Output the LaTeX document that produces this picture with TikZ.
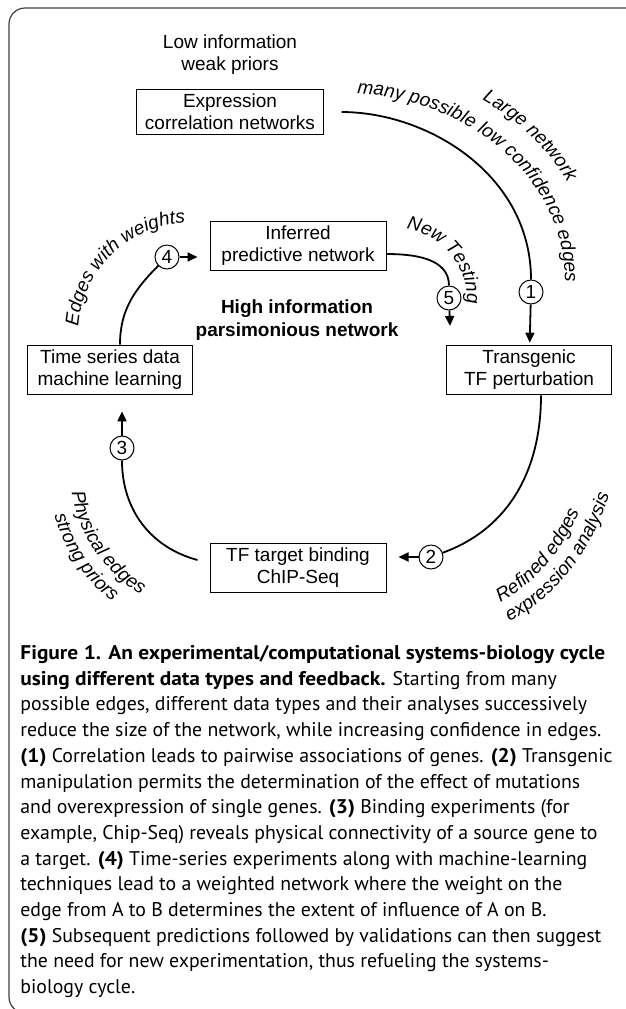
\documentclass[tikz,border=0pt]{standalone}
\usepackage{fontspec}
\setmainfont{Liberation Sans}
\newfontfamily\capfont{PT Sans}[BoldFeatures={FakeStretch=1.08}]
\usetikzlibrary{arrows.meta,decorations.text}

\newcommand\arcfont{\fontsize{9.5}{11}\selectfont\itshape}

\tikzset{
  box/.style={draw,line width=0.5pt,align=center,inner xsep=4pt,inner ysep=2.5pt,minimum width=88pt},
  num/.style={circle,draw,line width=0.5pt,inner sep=0pt,minimum size=12pt},
  link/.style={line width=0.9pt},
  arr/.style={line width=0.9pt,-{Triangle[length=5pt,width=4.5pt]}},
  arclabel/.style={decorate,decoration={text along path,text align=center,text={|\arcfont|#1}}}
}

\begin{document}
\begin{tikzpicture}[x=0.5pt,y=0.5pt,font=\fontsize{9.5}{11}\selectfont]

        \useasboundingbox (0,0) rectangle (626,-1009);
        \clip (0,0) rectangle (626,-1009);

        % frame
        \draw[black!75,line width=0.6pt,rounded corners=8pt] (9,-1013) rectangle (700,-8);

        \node[align=center] (lowinfo) at (230,-55) {Low information\\weak priors};
        \node[align=center,font=\fontsize{9.5}{11.5}\selectfont\bfseries] (highinfo) at (297,-320) {High information\\parsimonious network};

        \begin{scope}[every node/.style={box}]
          \node (expr)   at (230,-112) {Expression\\correlation networks};
          \node (infer)  at (298,-246) {Inferred\\predictive network};
          \node[minimum width=82.5pt] (series) at (110,-370) {Time series data\\machine learning};
          \node[minimum width=82.5pt] (transg) at (529,-370) {Transgenic\\TF perturbation};
          \node (chip)   at (298,-568) {TF target binding\\ChIP-Seq};
        \end{scope}

        \begin{scope}[every node/.style={num}]
          \node (n1) at (531,-292) {1};
          \node (n2) at (431,-557) {2};
          \node (n3) at (122,-448) {3};
          \node (n4) at (167,-257) {4};
          \node (n5) at (449,-298) {5};
        \end{scope}

        \coordinate (n5end) at (450,-326);

        % the cycle
        \path (expr) edge[link,out=0,in=90,shorten <=9pt] (n1);
        \path (n1) edge[arr,shorten >=1pt] (transg);
        \path ([xshift=6pt]transg.south) edge[link,out=-90,in=20] (n2);
        \path (n2) edge[arr,shorten >=6pt] (n2 -| chip.east);
        \path ([shift={(-6pt,4pt)}]chip.west) edge[link,out=165,in=-90] (n3);
        \path (n3) edge[arr,shorten >=8pt] (n3 |- series.south);
        \path ([xshift=5pt]series.north) edge[link,out=90,in=-135] (n4);
        \path (n4) edge[arr,shorten >=6pt] (n4 -| infer.west);
        \path ([yshift=-4pt]infer.east) edge[link,out=0,in=90] (n5);
        \path (n5) edge[arr] (n5end);

        % labels along the arcs
        \path[arclabel={many possible low confidence edges}] (341,-281) ++(88:224 and 188) arc[start angle=88,end angle=-3,x radius=224,y radius=188];
        \path[arclabel={Large network}] (341,-281) ++(58:254 and 218) arc[start angle=58,end angle=25,x radius=254,y radius=218];
        \path[arclabel={Edges with weights}] (190,-335) ++(178:112) arc[start angle=178,end angle=90,radius=112];
        \path[arclabel={New Testing}] (395,-300) ++(84:72) arc[start angle=84,end angle=-6,radius=72];
        \path[arclabel={Physical edges}] (215,-470) ++(184:145) arc[start angle=184,end angle=244,radius=145];
        \path[arclabel={strong priors}] (215,-470) ++(194:167) arc[start angle=194,end angle=234,radius=167];
        \path[arclabel={Refined edges}] (440,-420) ++(-74:157 and 197) arc[start angle=-74,end angle=-22,x radius=157,y radius=197];
        \path[arclabel={expression analysis}] (440,-420) ++(-72:180 and 218) arc[start angle=-72,end angle=-16,x radius=180,y radius=218];

        % caption
        \node[anchor=north west,align=left,inner sep=0pt,font=\capfont\fontsize{9.9}{12.85}\selectfont] (caption) at (20,-645) {%
          \textbf{Figure 1. An experimental/computational systems-biology cycle}\\
          \textbf{using different data types and feedback.} Starting from many\\
          possible edges, different data types and their analyses successively\\
          reduce the size of the network, while increasing confidence in edges.\\
          \textbf{(1)} Correlation leads to pairwise associations of genes. \textbf{(2)} Transgenic\\
          manipulation permits the determination of the effect of mutations\\
          and overexpression of single genes. \textbf{(3)} Binding experiments (for\\
          example, Chip-Seq) reveals physical connectivity of a source gene to\\
          a target. \textbf{(4)} Time-series experiments along with machine-learning\\
          techniques lead to a weighted network where the weight on the\\
          edge from A to B determines the extent of influence of A on B.\\
          \textbf{(5)} Subsequent predictions followed by validations can then suggest\\
          the need for new experimentation, thus refueling the systems-\\
          biology cycle.};

\end{tikzpicture}
\end{document}
